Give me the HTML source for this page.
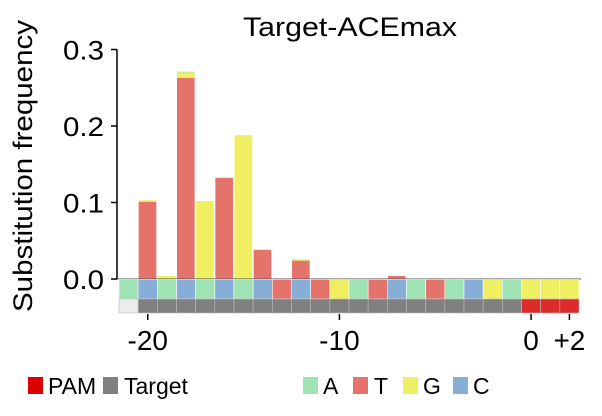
<!DOCTYPE html>
<html><head><meta charset="utf-8"><style>
body{margin:0;background:#fff}
svg{display:block;font-family:"Liberation Sans",Arial,sans-serif}
</style></head><body>
<svg id="chart" width="602" height="416" viewBox="0 0 602 416" xmlns="http://www.w3.org/2000/svg">
<text x="350" y="36" font-size="27" text-anchor="middle" textLength="214" lengthAdjust="spacingAndGlyphs">Target-ACEmax</text>
<text transform="translate(32,166) rotate(-90)" font-size="27" text-anchor="middle" textLength="292" lengthAdjust="spacingAndGlyphs">Substitution frequency</text>
<g id="yaxis"></g>
<g id="bars"></g>
<g id="seq"></g>
<g id="xaxis"></g>
<g id="legend"></g>
</svg>
<script>
const positions=["-21","-20","-19","-18","-17","-16","-15","-14","-13","-12","-11","-10","-9","-8","-7","-6","-5","-4","-3","-2","-1","0","+1","+2"];
const refBases=["A","C","A","C","A","C","A","C","T","C","T","G","A","T","C","A","T","A","C","G","A","G","G","G"];
const trackType=["none","target","target","target","target","target","target","target","target","target","target","target","target","target","target","target","target","target","target","target","target","pam","pam","pam"];
const valT=[0,0.101,0,0.263,0,0.132,0,0.038,0,0.024,0,0,0,0,0.004,0,0,0,0,0,0,0,0,0];
const valG=[0,0.002,0.004,0.007,0.102,0.001,0.188,0.001,0,0.002,0,0,0,0,0,0,0,0,0,0,0,0,0,0];
const valA=[0,0,0,0.001,0,0,0,0,0,0,0,0,0,0,0,0,0,0,0,0,0,0,0,0];
const valC=[0,0,0,0,0,0,0,0,0,0,0,0,0,0,0,0,0,0,0,0,0,0,0,0];
const yTicks=[0,0.1,0.2,0.3];
const yTickLabels=["0.0","0.1","0.2","0.3"];
const xTickPos=["-20","-10","0","+2"];
const colors={A:"#9fe3b4",T:"#e3736b",G:"#f0ef62",C:"#87aed6"};
const NS="http://www.w3.org/2000/svg";
const x0=119,cw=(579-119)/24,y0=279,ppu=765;
function xs(i){return x0+i*cw;}
function ys(v){return y0-v*ppu;}
function mk(t,a,p){const e=document.createElementNS(NS,t);for(const k in a)e.setAttribute(k,a[k]);p.appendChild(e);return e;}
const yaxis=document.getElementById('yaxis');
const ya=mk('line',{x1:117,x2:117,y1:ys(0.3),y2:y0,stroke:'#000','stroke-width':1.5},yaxis);


yTicks.forEach((v,k)=>{
 const t=mk('line',{x1:111,x2:117,y1:ys(v),y2:ys(v),stroke:'#000','stroke-width':1.5},yaxis);
 
 
 const l=mk('text',{x:104,y:ys(v)+10,'font-size':27,'text-anchor':'end',textLength:41,lengthAdjust:'spacingAndGlyphs'},yaxis);
 l.textContent=yTickLabels[k];
 
 
});
const bars=document.getElementById('bars');
const series=[["T",valT],["G",valG],["A",valA],["C",valC]];
positions.forEach((p,i)=>{
 let acc=0;
 series.forEach(([b,arr])=>{
  const v=arr[i]; if(v<=0)return;
  const r=mk('rect',{x:xs(i)+0.5,y:ys(acc+v),width:cw-1.5,height:v*ppu,fill:colors[b]},bars);
  
  
  acc+=v;
 });
});
mk('line',{x1:117,x2:581,y1:y0,y2:y0,stroke:'#555','stroke-width':1},bars);
const seq=document.getElementById('seq');
const tc={none:"#ececec",target:"#808080",pam:"#dd2a2a"};
positions.forEach((p,i)=>{
 const r=mk('rect',{x:xs(i),y:279.5,width:cw,height:19.5,fill:colors[refBases[i]],stroke:'#fff','stroke-width':0.6},seq);
 
 
 const r2=mk('rect',{x:xs(i),y:299,width:cw,height:14,fill:tc[trackType[i]],stroke:'#bbb','stroke-width':0.6},seq);
 
 
});
const xaxis=document.getElementById('xaxis');
xTickPos.forEach(p=>{
 const i=positions.indexOf(p);const cx=xs(i)+cw/2;
 const t=mk('line',{x1:cx,x2:cx,y1:314,y2:320,stroke:'#000','stroke-width':1.5},xaxis);
 
 
 const l=mk('text',{x:cx,y:350,'font-size':28,'text-anchor':'middle'},xaxis);
 l.textContent=p;
 
 
});
const legend=document.getElementById('legend');
const legItems=[["PAM","#dd0000",28,48],["Target","#808080",103,124],["A",colors.A,303,323],["T",colors.T,353,374],["G",colors.G,403,423],["C",colors.C,453,473]];
legItems.forEach(([n,c,sx,tx])=>{
 const r=mk('rect',{x:sx,y:377,width:15,height:17,fill:c},legend);
 
 
 const t=mk('text',{x:tx,y:394,'font-size':23},legend);
 t.textContent=n;
 
 
});
</script>
</body></html>
